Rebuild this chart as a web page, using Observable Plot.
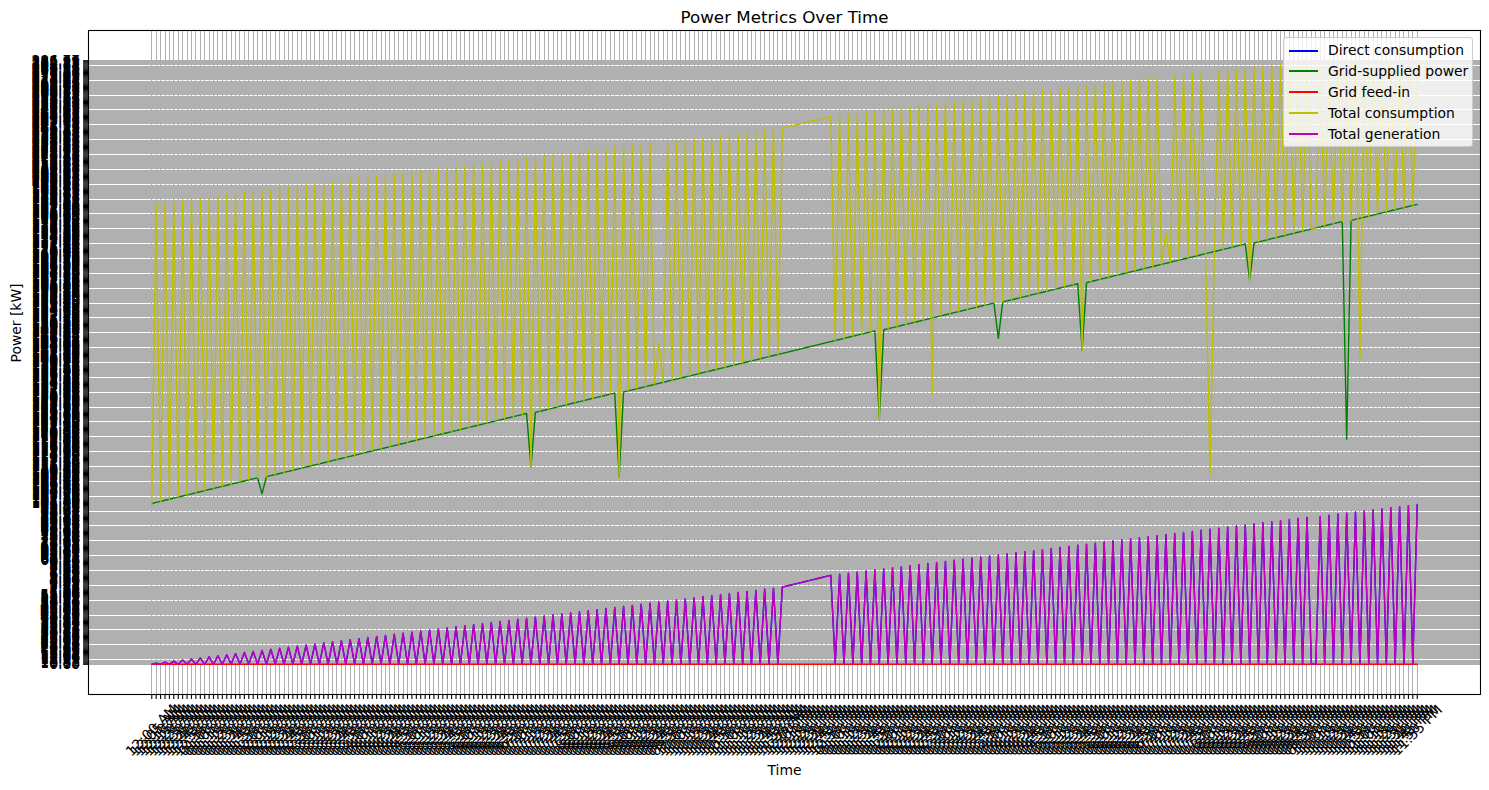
<!DOCTYPE html>
<html><head><meta charset="utf-8">
<script src="https://cdn.jsdelivr.net/npm/d3@7"></script>
<script src="https://cdn.jsdelivr.net/npm/@observablehq/plot@0.6"></script>
<style>
html,body{margin:0;padding:0;background:#fff;}
#wrap{position:relative;width:1489px;height:790px;font-family:"DejaVu Sans",sans-serif;}
#legend{position:absolute;left:1283px;top:37px;width:190px;height:110px;box-sizing:border-box;background:rgba(255,255,255,0.8);border:1px solid #cccccc;border-radius:3px;}
.sw{position:absolute;left:5px;width:29px;height:2px;}
.lt{position:absolute;left:44px;font-size:13.9px;line-height:16px;color:#000;white-space:nowrap;}
</style>
</head><body><div id="wrap"></div>
<script>
// Time categories: 5-minute readings over one day
const times = d3.utcMinute.every(5).range(new Date(Date.UTC(2024,0,1)), new Date(Date.UTC(2024,0,2))).map(d3.utcFormat("%I:%M %p"));

const seriesNames = ["Direct consumption","Grid-supplied power","Grid feed-in","Total consumption","Total generation"];
const seriesColors = ["#0000ff","#008000","#ff0000","#bfbf00","#bf00bf"];

const directConsumption = [
0,10.13,0,10.87,0,11.52,0,12.29,0,12.91,0,13.66,0,14.38,0,15.04,0,15.83,0,16.47,
0,17.19,0,17.95,0,18.62,0,19.31,0,20.08,0,20.74,0,21.49,0,22.17,0,22.96,0,23.58,
0,24.35,0,25.02,0,25.81,0,26.43,0,27.19,0,27.88,0,28.64,0,29.27,0,30.05,0,30.71,
0,31.48,0,32.16,0,32.93,0,33.57,0,34.32,0,35.01,0,35.79,0,36.44,0,37.21,0,37.86,
0,38.63,0,39.29,0,40.07,0,40.72,0,41.49,0,42.15,0,42.94,0,43.58,0,44.36,0,45.03,
0,45.81,0,46.46,0,47.23,0,47.89,0,48.67,0,49.32,0,50.09,0,50.76,0,51.54,0,52.18,
0,52.97,0,53.62,0,54.39,0,55.06,0,55.84,0,1.07,0,1.36,0,1.64,0,1.93,0,2.21,
0,2.58,0,2.86,3.12,3.47,3.75,4.03,4.39,4.66,4.98,5.24,5.57,5.83,6.18,0,6.45,0,6.79,0,
7.06,0,7.34,0,7.69,0,7.95,0,8.27,0,8.53,0,8.88,0,9.14,0,9.42,0,9.71,0,
9.96,0,60.14,0,60.86,0,61.53,0,62.27,0,62.95,0,63.68,0,64.31,0,65.07,0,65.74,0,
66.49,0,67.13,0,67.88,0,68.56,0,69.22,0,69.97,0,70.63,0,71.38,0,72.05,0,72.79,0,
73.46,0,74.18,0,74.87,0,75.59,0,76.24,0,76.98,0,77.65,0,78.37,0,79.04,0,79.76,0,
80.43,0,81.17,0,81.85,0,82.58,0,83.26,0,83.94,0,84.67,0,85.33,0,86.09,0,86.74,0,
87.48,0,88.15,0,0,88.87,0,89.56,0,90.28,0,90.93,0,91.67,0,92.34,0,93.08,0,93.75,
0,94.49,0,95.16,0,95.88,0,96.57];

const gridSupplied = [
101.06,101.40,101.58,102.00,102.26,102.56,102.78,103.16,103.30,103.76,
104.06,104.32,104.50,104.94,105.20,105.48,105.72,106.08,106.24,106.66,
106.98,107.22,107.44,107.86,108.10,103.76,108.42,108.62,109.02,109.18,
109.60,109.94,110.16,110.40,110.82,111.08,111.36,111.58,111.96,112.14,
112.56,112.88,113.12,113.34,113.78,114.02,114.30,114.54,114.90,115.08,
115.52,115.84,116.06,116.30,116.74,116.98,117.28,117.50,117.88,118.02,
118.46,118.80,119.02,119.24,119.68,119.94,120.22,120.46,120.84,121.00,
121.42,121.76,121.98,122.22,122.64,122.90,123.18,123.40,123.80,123.96,
124.38,124.70,124.94,125.16,125.60,125.86,111.08,126.14,126.36,126.74,
126.92,127.34,127.68,127.90,128.14,128.56,128.80,129.10,129.32,129.70,
129.86,130.30,130.62,130.86,131.08,131.52,108.42,131.76,132.04,132.28,
132.66,132.82,133.24,133.58,133.80,134.04,134.46,134.72,135.00,135.22,
135.62,135.78,136.20,136.52,136.76,136.98,137.42,137.66,137.96,138.18,
138.56,138.72,139.16,139.48,139.72,139.94,140.36,140.62,140.90,141.12,
141.52,141.68,142.10,142.44,142.66,142.90,143.32,143.58,143.86,144.08,
144.46,144.64,145.06,145.38,145.62,145.84,146.28,146.52,146.82,147.04,
147.42,147.58,148.02,148.34,148.58,124.38,148.80,149.24,149.48,149.76,
150.00,150.38,150.54,150.98,151.30,151.54,151.76,152.20,152.44,152.72,
152.96,153.34,153.50,153.92,154.26,154.48,154.72,155.14,155.40,155.68,
155.90,156.30,146.52,156.46,156.88,157.20,157.44,157.66,158.10,158.34,
158.64,158.86,159.24,159.40,159.84,160.16,160.40,160.62,161.06,161.30,
161.58,143.32,161.82,162.20,162.36,162.78,163.12,163.34,163.58,164.00,
164.26,164.54,164.76,165.16,165.32,165.74,166.06,166.30,166.52,166.96,
167.20,167.50,167.72,168.10,168.26,168.70,169.02,169.26,169.48,169.92,
170.16,170.44,170.68,171.06,171.22,171.64,171.98,172.20,172.44,162.36,
172.86,173.12,173.40,173.62,174.02,174.18,174.60,174.92,175.16,175.38,
175.82,176.06,176.36,176.58,176.96,177.12,177.56,177.88,178.12,178.34,
178.78,118.80,179.02,179.30,179.54,179.92,180.08,180.50,180.84,181.06,
181.30,181.72,181.98,182.26,182.48,182.88,183.04,183.46];

const gridFeedIn = [
0,0,0,0,0,0,0,0,0,0,0,0,0,0,0,0,0,0,0,0,0,0,0,0,
0,0,0,0,0,0,0,0,0,0,0,0,0,0,0,0,0,0,0,0,0,0,0,0,
0,0,0,0,0,0,0,0,0,0,0,0,0,0,0,0,0,0,0,0,0,0,0,0,
0,0,0,0,0,0,0,0,0,0,0,0,0,0,0,0,0,0,0,0,0,0,0,0,
0,0,0,0,0,0,0,0,0,0,0,0,0,0,0,0,0,0,0,0,0,0,0,0,
0,0,0,0,0,0,0,0,0,0,0,0,0,0,0,0,0,0,0,0,0,0,0,0,
0,0,0,0,0,0,0,0,0,0,0,0,0,0,0,0,0,0,0,0,0,0,0,0,
0,0,0,0,0,0,0,0,0,0,0,0,0,0,0,0,0,0,0,0,0,0,0,0,
0,0,0,0,0,0,0,0,0,0,0,0,0,0,0,0,0,0,0,0,0,0,0,0,
0,0,0,0,0,0,0,0,0,0,0,0,0,0,0,0,0,0,0,0,0,0,0,0,
0,0,0,0,0,0,0,0,0,0,0,0,0,0,0,0,0,0,0,0,0,0,0,0,
0,0,0,0,0,0,0,0,0,0,0,0,0,0,0,0,0,0,0,0,0,0,0,0];

const totalConsumption = [
101.06,184.05,101.58,184.93,102.26,185.71,102.78,186.59,103.30,187.37,
104.06,188.15,104.50,188.93,105.20,189.81,105.72,190.67,106.24,191.45,
106.98,192.33,107.44,193.11,108.10,193.99,108.42,194.77,109.02,195.63,
109.60,196.41,110.16,197.29,110.82,198.07,111.36,198.95,111.96,199.73,
112.56,200.61,113.12,201.39,113.78,202.27,114.30,203.05,114.90,203.93,
115.52,204.71,116.06,205.57,116.74,206.35,117.28,207.23,117.88,208.01,
118.46,208.89,119.02,209.67,119.68,210.55,120.22,211.33,120.84,212.19,
121.42,212.97,121.98,213.85,122.64,214.63,123.18,215.51,123.80,216.29,
124.38,217.17,124.94,217.95,125.60,218.81,111.08,219.59,126.36,220.47,
126.92,221.25,127.68,222.13,128.14,222.91,128.80,223.79,129.32,224.57,
129.86,225.43,130.62,226.21,131.08,227.09,108.42,227.87,132.04,228.75,
132.66,229.53,133.24,230.41,133.80,145.06,134.46,231.19,135.00,232.05,
135.62,232.83,136.20,233.71,136.76,234.49,137.42,235.37,137.96,236.15,
138.56,237.03,139.16,237.81,139.72,238.67,140.36,239.45,140.90,240.33,
141.52,241.11,142.10,241.39,241.73,241.95,242.31,242.57,242.79,243.13,
243.41,243.65,243.97,244.21,244.53,145.84,244.85,146.52,245.63,147.04,
246.41,147.58,247.27,148.34,248.05,124.38,248.83,149.24,249.69,149.76,
250.47,150.38,251.25,150.98,252.11,151.54,252.89,131.08,253.67,152.72,
254.53,153.34,255.31,153.92,256.09,154.48,256.95,155.14,257.73,155.68,
258.51,156.30,259.37,156.46,260.15,157.20,260.93,157.66,261.79,158.34,
262.57,158.86,263.35,159.40,264.21,160.16,264.99,160.62,265.77,161.30,
266.63,143.32,267.41,162.20,268.19,162.78,269.05,163.34,269.83,164.00,
270.61,164.54,271.47,165.16,272.25,165.74,273.03,166.30,273.89,166.96,
175.38,167.50,275.45,168.10,276.31,168.70,277.09,169.26,277.87,169.92,
109.02,170.44,278.73,171.06,279.51,171.64,280.29,172.20,281.15,162.36,
281.93,173.12,282.71,173.62,283.57,174.18,284.35,174.92,285.13,175.38,
285.99,176.06,286.77,176.58,176.96,284.35,177.56,279.51,178.12,285.99,
178.78,281.93,179.02,286.77,140.90,277.09,180.08,283.57,180.84,280.29,
181.30,285.13,181.98,282.71,182.48,281.15,183.04,277.87];

const totalGeneration = [
0,10.13,0,10.87,0,11.52,0,12.29,0,12.91,0,13.66,0,14.38,0,15.04,0,15.83,0,16.47,
0,17.19,0,17.95,0,18.62,0,19.31,0,20.08,0,20.74,0,21.49,0,22.17,0,22.96,0,23.58,
0,24.35,0,25.02,0,25.81,0,26.43,0,27.19,0,27.88,0,28.64,0,29.27,0,30.05,0,30.71,
0,31.48,0,32.16,0,32.93,0,33.57,0,34.32,0,35.01,0,35.79,0,36.44,0,37.21,0,37.86,
0,38.63,0,39.29,0,40.07,0,40.72,0,41.49,0,42.15,0,42.94,0,43.58,0,44.36,0,45.03,
0,45.81,0,46.46,0,47.23,0,47.89,0,48.67,0,49.32,0,50.09,0,50.76,0,51.54,0,52.18,
0,52.97,0,53.62,0,54.39,0,55.06,0,55.84,0,1.07,0,1.36,0,1.64,0,1.93,0,2.21,
0,2.58,0,2.86,3.12,3.47,3.75,4.03,4.39,4.66,4.98,5.24,5.57,5.83,6.18,0,6.45,0,6.79,0,
7.06,0,7.34,0,7.69,0,7.95,0,8.27,0,8.53,0,8.88,0,9.14,0,9.42,0,9.71,0,
9.96,0,60.14,0,60.86,0,61.53,0,62.27,0,62.95,0,63.68,0,64.31,0,65.07,0,65.74,0,
66.49,0,67.13,0,67.88,0,68.56,0,69.22,0,69.97,0,70.63,0,71.38,0,72.05,0,72.79,0,
73.46,0,74.18,0,74.87,0,75.59,0,76.24,0,76.98,0,77.65,0,78.37,0,79.04,0,79.76,0,
80.43,0,81.17,0,81.85,0,82.58,0,83.26,0,83.94,0,84.67,0,85.33,0,86.09,0,86.74,0,
87.48,0,88.15,0,0,88.87,0,89.56,0,90.28,0,90.93,0,91.67,0,92.34,0,93.08,0,93.75,
0,94.49,0,95.16,0,95.88,0,96.57];

// Values are plotted as string categories (order of first appearance), as in the source chart
const allSeries = [directConsumption, gridSupplied, gridFeedIn, totalConsumption, totalGeneration];
const fmt = v => v.toFixed(2);
const catSet = new Set();
allSeries.forEach(s => s.forEach(v => catSet.add(fmt(v))));
const cats = Array.from(catSet);

const lineMarks = allSeries.map((s, k) =>
  Plot.line(s.map((v, i) => ({t: times[i], v: fmt(v)})), {x: "t", y: "v", stroke: seriesColors[k], strokeWidth: 1.4})
);

const pad = 0.05;
const chart = Plot.plot({
  width: 1489, height: 790,
  marginLeft: 88, marginRight: 9, marginTop: 30, marginBottom: 96,
  style: {fontFamily: "DejaVu Sans", fontSize: "13.9px", background: "white", color: "black", overflow: "visible"},
  x: {type: "point", domain: times, padding: pad * (times.length - 1), axis: null},
  y: {type: "point", domain: cats, padding: pad * (cats.length - 1), reverse: true, axis: null},
  marks: [
    Plot.ruleY(cats, {stroke: "#b0b0b0", strokeWidth: 1, shapeRendering: "crispEdges"}),
    Plot.ruleX(times, {stroke: "#b0b0b0", strokeWidth: 1, shapeRendering: "crispEdges"}),
    ...lineMarks,
    Plot.axisY({ticks: cats, tickSize: 4.9, tickPadding: 3.5, fontSize: 13.9, label: null, tickFormat: d => d, strokeWidth: 1.1}),
    Plot.axisX({ticks: times, tickSize: 4.9, tickFormat: () => "", label: null, strokeWidth: 1.1}),
    Plot.text(times, {x: d => d, frameAnchor: "bottom", dy: 36, rotate: -45, text: d => d, textAnchor: "middle", lineAnchor: "middle", fontSize: 13.9}),
    Plot.text(["Time"], {frameAnchor: "bottom", dy: 80, text: d => d, fontSize: 13.9}),
    Plot.text(["Power [kW]"], {frameAnchor: "left", dx: -72, rotate: -90, text: d => d, fontSize: 13.9}),
    Plot.text(["Power Metrics Over Time"], {frameAnchor: "top", dy: -19, text: d => d, fontSize: 16.7}),
    Plot.frame({stroke: "black", strokeWidth: 1.1})
  ]
});
const wrap = document.getElementById("wrap");
wrap.appendChild(chart);

const legend = document.createElement("div");
legend.id = "legend";
seriesNames.forEach((name, i) => {
  const cy = 12.5 + i * 20.9;
  const sw = document.createElement("div");
  sw.className = "sw"; sw.style.top = Math.round(cy - 1) + "px"; sw.style.background = seriesColors[i];
  const lt = document.createElement("div");
  lt.className = "lt"; lt.style.top = (cy - 8.5) + "px"; lt.textContent = name;
  legend.appendChild(sw); legend.appendChild(lt);
});
wrap.appendChild(legend);
</script>
</body></html>
